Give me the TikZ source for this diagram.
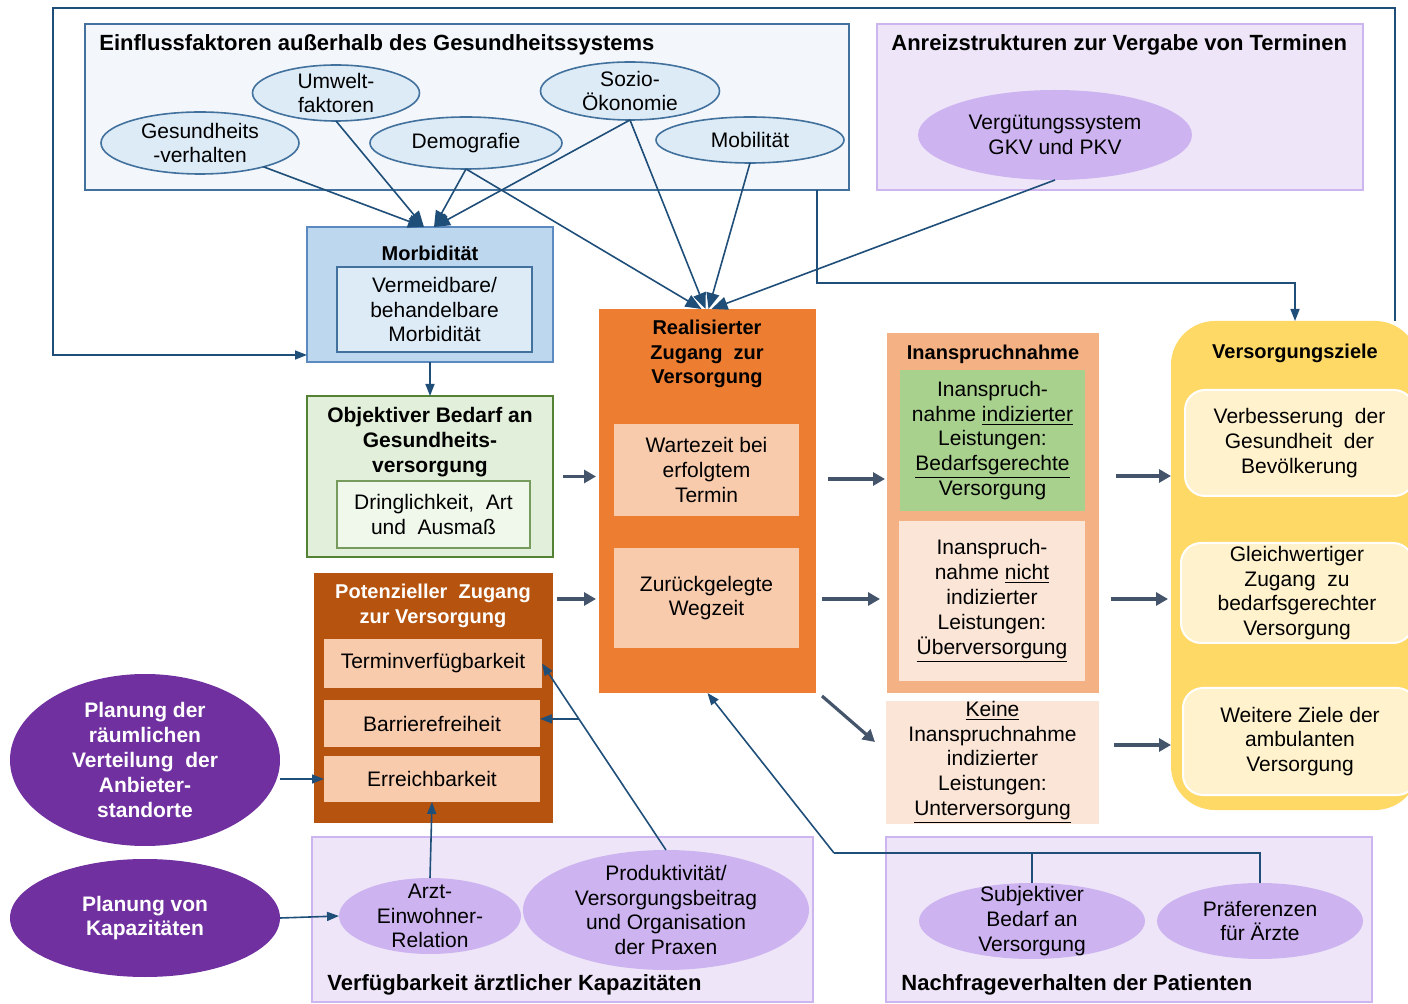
\documentclass[tikz,border=0pt]{standalone}
\usepackage{fontspec}
\setmainfont{Liberation Sans}
\usetikzlibrary{shapes.geometric,arrows.meta}

\definecolor{linkblue}{HTML}{1F4E79}
\definecolor{arrgray}{HTML}{44546A}
\definecolor{steel}{HTML}{41719C}
\definecolor{lilac}{HTML}{CDB5F0}
\definecolor{lilacbg}{HTML}{EEE6F8}
\definecolor{lilacfill}{HTML}{CDB4F0}
\definecolor{skyfill}{HTML}{DDEBF7}
\definecolor{paleblue}{HTML}{F3F7FC}
\definecolor{morbfill}{HTML}{BDD7EE}
\definecolor{morbline}{HTML}{5B8AC0}
\definecolor{greenbg}{HTML}{E2EFDA}
\definecolor{greenln}{HTML}{548235}
\definecolor{greenin}{HTML}{F0F7EB}
\definecolor{rust}{HTML}{B5530F}
\definecolor{peach}{HTML}{F8CBAD}
\definecolor{realorange}{HTML}{ED7D31}
\definecolor{apricot}{HTML}{F4B183}
\definecolor{leaf}{HTML}{A9D18E}
\definecolor{blush}{HTML}{FBE5D6}
\definecolor{gold}{HTML}{FFD966}
\definecolor{cream}{HTML}{FFF2CC}
\definecolor{plum}{HTML}{7030A0}

\tikzset{
  wh/.style 2 args={minimum width=#1*0.5pt, minimum height=#2*0.5pt},
  area/.style={anchor=north west, inner sep=0pt, outer sep=0pt},
  txt/.style={font=\fontsize{10.5}{12.4}\selectfont, align=center, inner sep=0pt},
  head/.style={font=\fontsize{10.5}{12.4}\selectfont\bfseries, align=center, inner sep=0pt},
  boxhead/.style={head, font=\fontsize{10}{12.4}\selectfont\bfseries},
  grouphead/.style={head, anchor=west, font=\fontsize{11}{13}\selectfont\bfseries},
  ell/.style={ellipse, inner sep=0pt, outer sep=0pt},
  link/.style={draw=linkblue, line width=0.8pt, -{Triangle[length=6pt,width=4.5pt]}},
  bigtip/.style={-{Triangle[length=8pt,width=6.5pt]}},
  gar/.style={draw=arrgray, line width=1.6pt, -{Triangle[length=6pt,width=6.5pt]}},
}

\begin{document}
\begin{tikzpicture}[x=0.5pt, y=-0.5pt]
  \path[use as bounding box, clip] (0,0) rectangle (1408,1004);

  % Einflussfaktoren / Anreizstrukturen
  \node[area, draw=steel, line width=1pt, fill=paleblue, wh={764}{166}] (einfl) at (85,24) {};
  \node[grouphead] (einfltitle) at (99,45) {Einflussfaktoren außerhalb des Gesundheitssystems};
  \node[area, draw=lilac, line width=1pt, fill=lilacbg, wh={486}{166}] (anreiz) at (877,24) {};
  \node[grouphead] (anreiztitle) at (891,45) {Anreizstrukturen zur Vergabe von Terminen};

  \node[ell, draw=steel, line width=0.8pt, fill=skyfill, wh={167}{56},
        label={[txt]center:{Umwelt-\\faktoren}}] (umwelt) at (336,93) {};
  \node[ell, draw=steel, line width=0.8pt, fill=skyfill, wh={198}{62},
        label={[txt]center:{Gesundheits\\-verhalten}}] (gesund) at (200,143) {};
  \node[ell, draw=steel, line width=0.8pt, fill=skyfill, wh={192}{52},
        label={[txt]center:Demografie}] (demo) at (466,143) {};
  \node[ell, draw=steel, line width=0.8pt, fill=skyfill, wh={179}{58},
        label={[txt]center:{Sozio-\\Ökonomie}}] (sozio) at (630,91) {};
  \node[ell, draw=steel, line width=0.8pt, fill=skyfill, wh={188}{46},
        label={[txt]center:Mobilität}] (mobil) at (750,140) {};
  \node[ell, fill=lilacfill, wh={274}{90},
        label={[txt]center:{Vergütungssystem\\GKV und PKV}}] (verg) at (1055,135) {};

  % Morbiditaet und Bedarf
  \node[area, draw=morbline, line width=1pt, fill=morbfill, wh={246}{135}] (morb) at (307,227) {};
  \node[boxhead] (morbtitle) at (430,253) {Morbidität};
  \node[area, txt, draw=steel, line width=0.8pt, fill=skyfill, wh={195}{85}] (morbin) at (337,267)
    {Vermeidbare/\\behandelbare\\Morbidität};

  \node[area, draw=greenln, line width=1.3pt, fill=greenbg, wh={246}{161}] (obj) at (307,396) {};
  \node[head] (objtitle) at (430,442) {Objektiver Bedarf an\\Gesundheits-\\versorgung};
  \node[area, txt, draw=greenln!80!white, line width=0.8pt, fill=greenin, wh={193}{67}] (dring) at (337,481)
    {Dringlichkeit,~ Art\\und~ Ausmaß};

  % Potenzieller Zugang
  \node[area, fill=rust, wh={239}{250}] (pot) at (314,573) {};
  \node[boxhead, text=white] (pottitle) at (433,606) {Potenzieller~ Zugang\\zur Versorgung};
  \node[area, txt, fill=peach, wh={218}{49}] (term) at (324,639) {Terminverfügbarkeit};
  \node[area, txt, fill=peach, wh={216}{47}] (barr) at (324,700) {Barrierefreiheit};
  \node[area, txt, fill=peach, wh={216}{46}] (erreich) at (324,756) {Erreichbarkeit};

  % Realisierter Zugang
  \node[area, fill=realorange, wh={217}{384}] (real) at (599,309) {};
  \node[boxhead] (realtitle) at (707,354) {Realisierter\\Zugang~ zur\\Versorgung};
  \node[area, txt, fill=peach, wh={185}{92}] (wart) at (614,424) {Wartezeit bei\\erfolgtem\\Termin};
  \node[area, txt, fill=peach, wh={185}{100}] (weg) at (614,548) {Zurückgelegte\\Wegzeit};

  % Inanspruchnahme
  \node[area, fill=apricot, wh={212}{360}] (insp) at (887,333) {};
  \node[boxhead] (insptitle) at (993,354) {Inanspruchnahme};
  \node[area, txt, fill=leaf, wh={185}{141}] (indiz) at (900,370)
    {Inanspruch-\\nahme \underline{indizierter}\\Leistungen:\\\underline{Bedarfsgerechte}\\Versorgung};
  \node[area, txt, fill=blush, wh={186}{160}] (nicht) at (899,521)
    {Inanspruch-\\nahme \underline{nicht}\\indizierter\\Leistungen:\\\underline{Überversorgung}};
  \node[area, txt, fill=blush, wh={213}{122}] (keine) at (886,701)
    {\underline{Keine}\\Inanspruchnahme\\indizierter\\Leistungen:\\\underline{Unterversorgung}};

  % Versorgungsziele
  \node[area, fill=gold, rounded corners=22pt, wh={248}{489}] (ziele) at (1171,321) {};
  \node[boxhead] (zieletitle) at (1295,353) {Versorgungsziele};
  \node[area, txt, fill=cream, draw=white, line width=1pt, rounded corners=10pt, wh={229}{106}] (ziel1) at (1185,390)
    {Verbesserung~ der\\Gesundheit~ der\\Bevölkerung};
  \node[area, txt, fill=cream, draw=white, line width=1pt, rounded corners=10pt, wh={232}{100}] (ziel2) at (1181,543)
    {Gleichwertiger\\Zugang~ zu\\bedarfsgerechter\\Versorgung};
  \node[area, txt, fill=cream, draw=white, line width=1pt, rounded corners=10pt, wh={234}{107}] (ziel3) at (1183,688)
    {Weitere Ziele der\\ambulanten\\Versorgung};

  % Planung
  \node[ell, fill=plum, wh={270}{172},
        label={[head, text=white]center:{Planung der\\räumlichen\\Verteilung~ der\\Anbieter-\\standorte}}] (plan1) at (145,760) {};
  \node[ell, fill=plum, wh={270}{118},
        label={[head, text=white]center:{Planung von\\Kapazitäten}}] (plan2) at (145,918) {};

  % Verfuegbarkeit / Nachfrageverhalten
  \node[area, draw=lilac, line width=1pt, fill=lilacbg, wh={501}{165}] (verf) at (312,837) {};
  \node[grouphead] (verftitle) at (327,985) {Verfügbarkeit ärztlicher Kapazitäten};
  \node[ell, fill=lilacfill, wh={182}{76},
        label={[txt]center:{Arzt-\\Einwohner-\\Relation}}] (arzt) at (430,916) {};
  \node[ell, fill=lilacfill, wh={286}{120},
        label={[txt]center:{Produktivität/\\Versorgungsbeitrag\\und Organisation\\der Praxen}}] (prod) at (666,910) {};

  \node[area, draw=lilac, line width=1pt, fill=lilacbg, wh={486}{165}] (nachf) at (886,837) {};
  \node[grouphead] (nachftitle) at (901,985) {Nachfrageverhalten der Patienten};
  \node[ell, fill=lilacfill, wh={226}{76},
        label={[txt]center:{Subjektiver\\Bedarf an\\Versorgung}}] (subj) at (1032,921) {};
  \node[ell, fill=lilacfill, wh={206}{76},
        label={[txt]center:{Präferenzen\\für Ärzte}}] (pref) at (1260,921) {};

  % blue connectors
  \draw[link, bigtip] (gesund) -- ([xshift=-3pt]morb.north);
  \draw[link, bigtip] (umwelt.south) -- ([xshift=-3pt]morb.north);
  \draw[link, bigtip] (demo.south) -- ([xshift=2pt]morb.north);
  \draw[link, bigtip] (sozio.south) -- ([xshift=2pt]morb.north);
  \draw[link, bigtip] (demo.south) -- ([xshift=-3pt]real.north);
  \draw[link, bigtip] (sozio.south) -- ([xshift=-1pt]real.north);
  \draw[link, bigtip] (mobil.south) -- ([xshift=0.5pt]real.north);
  \draw[link, bigtip] (verg.south) -- ([xshift=2pt]real.north);
  \draw[link] ([xshift=-16pt]einfl.south east) -- ++(0,93) -| (ziele.north);

  \coordinate (fbr) at (1395,8);
  \coordinate (fbl) at (53,8);
  \coordinate (morbfb) at ([yshift=3.5pt]morb.south west);
  \draw[link] (ziele.north -| fbr) -- (fbr) -- (fbl) |- (morbfb);
  \draw[link] (morb.south) -- (obj.north);

  \draw[link] (erreich.west -| plan1.east) -- (erreich.west);
  \draw[link] (plan2.east) -- (arzt.west);
  \draw[link] (arzt.north) -- (erreich.south);
  \draw[link] (prod.north) -- coordinate[pos=0.703] (branch) (term.east);
  \draw[link] (branch) -- (branch -| barr.east);

  \coordinate (nj) at (834,853);
  \draw[linkblue, line width=0.8pt] (subj.north) |- (nj);
  \draw[linkblue, line width=0.8pt] (pref.north) |- (nj);
  \draw[link] (nj) -- (real.south);

  % gray arrows
  \draw[gar, shorten >=1.5pt] (obj.east) ++(10,0) coordinate (g1) -- (g1 -| real.west);
  \draw[gar, shorten >=1.5pt] (pot.north east) ++(4,26) coordinate (g2) -- (g2 -| real.west);
  \draw[gar, shorten >=1pt] (real.east) ++(12,-22) coordinate (g3) -- (g3 -| insp.west);
  \draw[gar, shorten >=3.5pt] (real.east) ++(6,98) coordinate (g4) -- (g4 -| insp.west);
  \draw[gar] ([shift={(3pt,-1.5pt)}]real.south east) -- ([shift={(-5.5pt,-20.5pt)}]keine.north west);
  \draw[gar] (insp.north east) ++(17,143) coordinate (g6) -- (g6 -| ziele.west);
  \draw[gar, shorten >=1.5pt] (insp.north east) ++(12,266) coordinate (g7) -- (g7 -| ziele.west);
  \draw[gar] (keine.north east) ++(15,44) coordinate (g8) -- (g8 -| ziele.west);
\end{tikzpicture}
\end{document}
